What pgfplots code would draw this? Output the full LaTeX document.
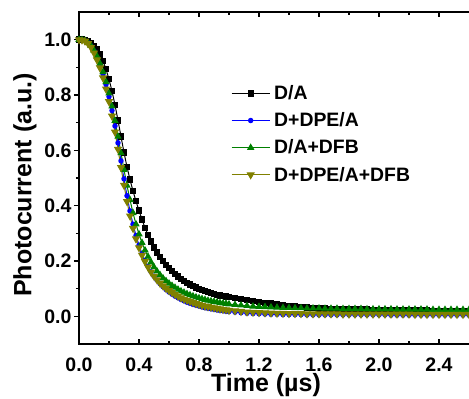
\documentclass[border=0pt]{standalone}
\usepackage{fontspec}
\setmainfont{Liberation Sans}
\usepackage{pgfplots}
\pgfplotsset{compat=1.18}
\usepackage{pgfplotstable}
\definecolor{myolive}{RGB}{128,128,0}
\definecolor{mygreen}{RGB}{0,128,0}
\definecolor{myblue}{RGB}{0,0,255}
\pgfplotstableread{
t A B C D
0.00 1.000 1.000 1.000 1.000
0.02 1.000 0.999 0.999 0.999
0.04 0.998 0.996 0.996 0.995
0.06 0.994 0.989 0.989 0.986
0.08 0.987 0.977 0.978 0.972
0.10 0.977 0.959 0.961 0.952
0.12 0.964 0.936 0.940 0.927
0.14 0.946 0.909 0.914 0.898
0.16 0.923 0.876 0.883 0.862
0.18 0.893 0.838 0.847 0.822
0.20 0.857 0.794 0.806 0.776
0.22 0.814 0.744 0.759 0.724
0.24 0.764 0.688 0.707 0.666
0.26 0.708 0.627 0.650 0.604
0.28 0.650 0.562 0.590 0.538
0.30 0.592 0.497 0.530 0.474
0.32 0.540 0.436 0.473 0.415
0.34 0.494 0.381 0.421 0.363
0.36 0.453 0.333 0.374 0.318
0.38 0.416 0.292 0.333 0.280
0.40 0.382 0.257 0.297 0.248
0.42 0.350 0.227 0.266 0.221
0.44 0.320 0.202 0.239 0.198
0.46 0.294 0.180 0.216 0.178
0.48 0.270 0.161 0.196 0.160
0.50 0.249 0.145 0.178 0.145
0.52 0.231 0.131 0.163 0.132
0.54 0.214 0.118 0.150 0.120
0.56 0.199 0.107 0.138 0.110
0.58 0.186 0.097 0.128 0.101
0.60 0.174 0.088 0.119 0.093
0.62 0.163 0.080 0.111 0.086
0.64 0.153 0.073 0.104 0.079
0.66 0.144 0.067 0.097 0.073
0.68 0.136 0.061 0.091 0.067
0.70 0.128 0.056 0.086 0.062
0.72 0.121 0.051 0.081 0.058
0.74 0.115 0.047 0.077 0.054
0.76 0.109 0.043 0.073 0.050
0.78 0.104 0.040 0.069 0.046
0.80 0.099 0.037 0.066 0.043
0.82 0.095 0.034 0.063 0.040
0.84 0.091 0.031 0.060 0.037
0.86 0.087 0.029 0.057 0.035
0.88 0.084 0.027 0.055 0.033
0.90 0.081 0.025 0.053 0.031
0.92 0.078 0.023 0.051 0.029
0.94 0.076 0.021 0.049 0.027
0.96 0.074 0.020 0.047 0.025
0.98 0.072 0.018 0.046 0.024
1.00 0.070 0.017 0.044 0.022
1.04 0.066 0.015 0.042 0.020
1.08 0.062 0.013 0.040 0.018
1.12 0.058 0.011 0.038 0.016
1.16 0.055 0.010 0.036 0.015
1.20 0.052 0.009 0.035 0.014
1.24 0.049 0.008 0.034 0.013
1.28 0.046 0.007 0.033 0.012
1.32 0.043 0.007 0.032 0.011
1.36 0.041 0.006 0.031 0.011
1.40 0.038 0.006 0.031 0.010
1.44 0.036 0.006 0.030 0.010
1.48 0.034 0.006 0.030 0.010
1.52 0.032 0.005 0.029 0.009
1.56 0.030 0.005 0.029 0.009
1.60 0.029 0.005 0.029 0.009
1.64 0.028 0.005 0.028 0.009
1.68 0.027 0.005 0.028 0.009
1.72 0.026 0.005 0.028 0.009
1.76 0.026 0.005 0.027 0.008
1.80 0.025 0.005 0.027 0.008
1.84 0.025 0.005 0.027 0.008
1.88 0.024 0.005 0.027 0.008
1.92 0.024 0.005 0.026 0.008
1.96 0.023 0.005 0.026 0.008
2.00 0.023 0.005 0.026 0.008
2.04 0.023 0.005 0.026 0.008
2.08 0.022 0.004 0.026 0.008
2.12 0.022 0.004 0.025 0.008
2.16 0.022 0.004 0.025 0.008
2.20 0.021 0.004 0.025 0.008
2.24 0.021 0.004 0.025 0.007
2.28 0.021 0.004 0.025 0.007
2.32 0.021 0.004 0.025 0.007
2.36 0.020 0.004 0.024 0.007
2.40 0.020 0.004 0.024 0.007
2.44 0.020 0.004 0.024 0.007
2.48 0.020 0.004 0.024 0.007
2.52 0.020 0.004 0.024 0.007
2.56 0.019 0.004 0.024 0.007
2.60 0.019 0.004 0.024 0.007
2.64 0.019 0.004 0.024 0.007
}\data

\begin{document}
\begin{tikzpicture}
\begin{axis}[
  scale only axis, width=400pt, height=332pt,
  xmin=0, xmax=2.6667, ymin=-0.1, ymax=1.1,
  axis line style={line width=2pt},
  xtick={0,0.4,...,2.4}, ytick={0,0.2,...,1.0},
  minor x tick num=1, minor y tick num=1,
  tick align=inside,
  xtick pos=both, ytick pos=left,
  major tick length=5pt, minor tick length=3pt,
  every tick/.style={black, line width=1.6pt},
  every major y tick/.append style={xshift=-5pt},
  every minor y tick/.append style={xshift=-3pt},
  /pgf/number format/assume math mode=true,
  /pgf/number format/.cd, fixed, fixed zerofill, precision=1, /pgfplots/.cd,
  tick label style={font=\fontsize{19.5}{22}\selectfont\bfseries},
  yticklabel style={xshift=-4pt},
  xticklabel style={yshift=-10pt},
  xlabel={Time (\textmu s)},
  ylabel={Photocurrent (a.u.)},
  label style={font=\fontsize{25}{30}\selectfont\bfseries},
  xlabel style={at={(axis description cs:0.4675,-0.1437)}, anchor=base},
  ylabel style={at={(axis description cs:-0.135,0.479)}, anchor=center},
  legend style={draw=none, fill=none, at={(axis description cs:0.38,0.785)}, anchor=north west,
    font=\fontsize{19.4}{22}\selectfont\bfseries, row sep=7.6pt, inner sep=0pt,
    nodes={inner xsep=4pt}},
  legend cell align=left,
  legend image code/.code={\draw[mark repeat=2,mark phase=2,#1] plot coordinates {(0pt,0pt) (19pt,0pt) (38pt,0pt)};},
]
\addplot[black, line width=1pt, mark=square*, mark size=2.7pt] table[x=t,y=A] {\data};
\addlegendentry{D/A}
\addplot[myblue, line width=1pt, mark=*, mark size=2.2pt] table[x=t,y=B] {\data};
\addlegendentry{D+DPE/A}
\addplot[mygreen, line width=1pt, mark=triangle*, mark size=3.3pt] table[x=t,y=C] {\data};
\addlegendentry{D/A+DFB}
\addplot[myolive, line width=1pt, mark=triangle*, mark size=3.8pt, every mark/.append style={rotate=180}] table[x=t,y=D] {\data};
\addlegendentry{D+DPE/A+DFB}
\end{axis}
\pgfresetboundingbox
\path (-79pt,-55pt) rectangle (390pt,344pt);
\end{tikzpicture}
\end{document}
